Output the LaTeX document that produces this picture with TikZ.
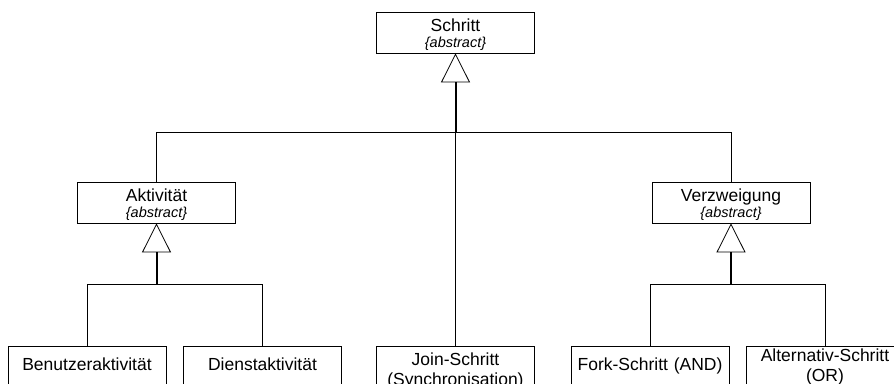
\documentclass[tikz,border=0pt]{standalone}
\usepackage{fontspec}
\setmainfont{Liberation Sans}
\usepackage{tikz}
\usetikzlibrary{positioning,arrows.meta,calc}
\tikzset{
    on grid,
    auto,
    klasse/.style = {
        draw,
        shape=rectangle,
        text width=150pt,
        align=center,
        inner xsep=4pt,
        inner ysep=6pt,
        text height=13pt,
        text depth=16pt,
        line width=0.8pt,
        font=\fontsize{17.5pt}{16pt}\selectfont
    },
    blatt/.style = {
        draw,
        shape=rectangle,
        text width=150pt,
        align=center,
        inner xsep=4pt,
        inner ysep=11pt,
        text height=13pt,
        text depth=40pt,
        line width=0.8pt,
        font=\fontsize{17.5pt}{20pt}\selectfont
    },
    erbt/.style = {
        -{Triangle[open,length=29pt,width=29pt,line width=0.8pt]},
        line width=2pt
    },
    linie/.style = {
        line width=0.8pt
    },
}
\newcommand{\abstrakt}{{\fontsize{14.5pt}{16pt}\itshape\selectfont\{abstract\}}}

\begin{document}
\begin{tikzpicture}
    \useasboundingbox (0pt,0pt) rectangle (894pt,-383pt);

    \node[klasse] (schritt) at (455.5pt,-32.5pt) {Schritt\\\abstrakt};
    \node[klasse, below left=170pt and 299pt of schritt] (aktivitaet) {Aktivität\\\abstrakt};
    \node[klasse, below right=170pt and 275.5pt of schritt] (verzweigung) {Verzweigung\\\abstrakt};

    \node[blatt, below left=181pt and 69.5pt of aktivitaet] (benutzer) {Benutzeraktivität};
    \node[blatt, below right=181pt and 106pt of aktivitaet] (dienst) {Dienstaktivität};
    \node[blatt, below=351pt of schritt, text height=8.5pt, text depth=44.5pt] (join) {Join-Schritt\\(Synchronisation)};
    \node[blatt, below left=181pt and 81pt of verzweigung] (fork) {Fork-Schritt (AND)};
    \node[blatt, below right=181pt and 94pt of verzweigung, text height=4.5pt, text depth=48.5pt] (alternativ) {Alternativ-Schritt\\(OR)};

    %connect
    \coordinate[below=79pt of schritt.south] (bus1);
    \coordinate[below=61pt of aktivitaet.south] (bus2);
    \coordinate[below=61pt of verzweigung.south] (bus3);

    \draw[linie] (aktivitaet) |- (bus1) -| (verzweigung);
    \draw[linie] (join) -- (bus1);
    \draw[erbt] (bus1) -- (schritt);

    \draw[linie] (benutzer) |- (bus2) -| (dienst);
    \draw[erbt] (bus2) -- (aktivitaet);

    \draw[linie] (fork) |- (bus3) -| (alternativ);
    \draw[erbt] (bus3) -- (verzweigung);
\end{tikzpicture}
\end{document}
